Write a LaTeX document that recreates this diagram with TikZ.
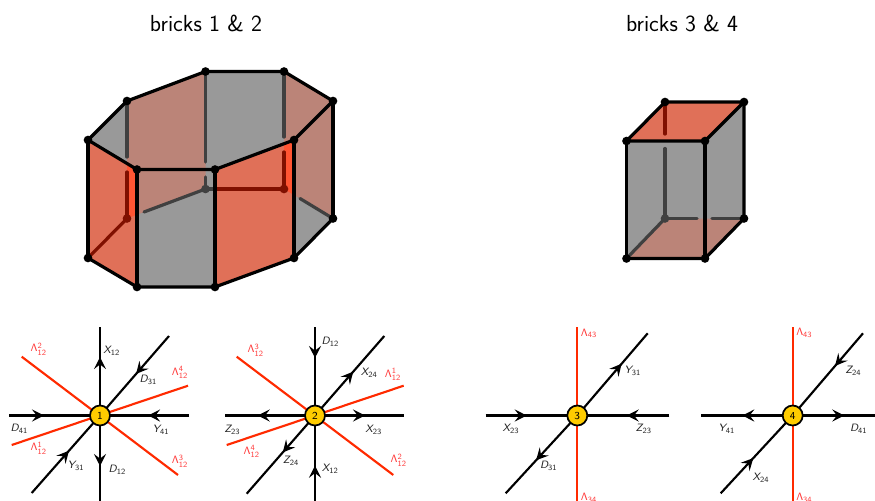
\documentclass[tikz,border=0pt]{standalone}
\usepackage{amsmath}
\usepackage{tikz}
\usetikzlibrary{arrows.meta,backgrounds,decorations.markings}
\definecolor{brickgray}{RGB}{153,153,153}
\definecolor{brickbrown}{RGB}{187,132,120}
\definecolor{brickred}{RGB}{224,112,88}
\definecolor{brickhot}{RGB}{255,85,51}
\definecolor{hidegray}{RGB}{64,64,64}
\definecolor{hidered}{RGB}{128,16,0}
\definecolor{gaugered}{RGB}{255,42,0}
\definecolor{lamred}{RGB}{255,60,60}
\definecolor{branegold}{RGB}{255,204,0}
\DeclareMathAlphabet{\mathsfit}{OT1}{cmss}{m}{sl}
\newcommand{\fld}[2]{$\mathsfit{#1}_{\mathsf{#2}}$}
\newcommand{\lam}[2]{$\mathsf{\Lambda}^{\mathsf{#1}}_{\mathsf{#2}}$}

\begin{document}
\begin{tikzpicture}[x=0.75pt, y=-0.75pt,
  every node/.style={font=\sffamily\fontsize{8}{10}\selectfont, inner sep=0pt},
  title/.style={font=\sffamily\fontsize{17.4}{20}\selectfont},
  edge/.style={line width=2.4pt, line join=round, line cap=round},
  hidgray/.style={line width=2.4pt, line cap=round, draw=hidegray},
  hidred/.style={line width=2.4pt, line cap=round, draw=hidered},
  vtx/.style={circle, fill=black, minimum size=6.5pt},
  vtxgray/.style={circle, fill=hidegray, minimum size=6.5pt},
  vtxred/.style={circle, fill=hidered, minimum size=6.5pt},
  brane/.style={circle, draw, line width=1.3pt, fill=branegold, minimum size=15pt},
  chir/.style={line width=1.6pt},
  gauge/.style={line width=1.6pt, draw=gaugered},
  flow/.style={chir, postaction={decorate}, decoration={markings,
    mark=at position #1 with {\arrow{Stealth[length=9pt, width=9pt, inset=3.5pt]}}}},
  lab/.style={text=black!85},
  lablam/.style={text=lamred}]
\useasboundingbox (0,0) rectangle (875,500);
% Titles
\node[title] (t12) at (206,23) {bricks 1 \& 2};
\node[title] (t34) at (682,23) {bricks 3 \& 4};
% Prism corners
\coordinate (a1) at (88,140);
\coordinate (b1) at (127,101);
\coordinate (c1) at (205.5,71.5);
\coordinate (d1) at (284,71.5);
\coordinate (e1) at (333,101);
\coordinate (f1) at (294,140);
\coordinate (g1) at (215,169.5);
\coordinate (h1) at (137,169.5);
\coordinate (a2) at (88,258);
\coordinate (b2) at (127,218.5);
\coordinate (c2) at (205.5,189);
\coordinate (d2) at (284,189);
\coordinate (e2) at (333,218.5);
\coordinate (f2) at (294,258);
\coordinate (g2) at (215,287);
\coordinate (h2) at (137,287);
% Prism faces
\fill[brickgray] (a1) -- (b1) -- (c1) -- (d1) -- (e1) -- (e2) -- (f2) -- (g2) -- (h2) -- (a2) -- cycle;
\fill[brickbrown] (b1) -- (c1) -- (c2) -- (b2) -- cycle;
\fill[brickbrown] (d1) -- (e1) -- (e2) -- (d2) -- cycle;
\fill[brickred] (a1) -- (h1) -- (h2) -- (a2) -- cycle;
\fill[brickred] (g1) -- (f1) -- (f2) -- (g2) -- cycle;
\fill[brickhot] (127,163.5) -- (h1) -- (137,214.7) -- (b2) -- cycle;
\fill[brickhot] (284,143.7) -- (f1) -- (294,195) -- (d2) -- cycle;
% Prism hidden edges
\draw[hidgray] (b1) -- (127,157);
\draw[hidred] (127,172) -- (b2);
\draw[hidgray] (c1) -- (205.5,162);
\draw[hidgray] (205.5,177) -- (c2);
\draw[hidgray] (d1) -- (284,137);
\draw[hidred] (284,152) -- (d2);
\draw[hidred] (a2) -- (b2);
\draw[hidgray] (144,212) -- (c2);
\draw[hidgray] (c2) -- (215,189);
\draw[hidred] (215,189) -- (d2);
\draw[hidgray] (300,198.5) -- (e2);
% Prism outline
\draw[edge] (a1) -- (b1) -- (c1) -- (d1) -- (e1) -- (f1) -- (g1) -- (h1) -- cycle;
\draw[edge] (a2) -- (h2) -- (g2) -- (f2) -- (e2);
\draw[edge] (a1) -- (a2);
\draw[edge] (h1) -- (h2);
\draw[edge] (g1) -- (g2);
\draw[edge] (f1) -- (f2);
\draw[edge] (e1) -- (e2);
\foreach \p in {a1,b1,c1,d1,e1,f1,g1,h1,a2,e2,f2,g2,h2}
  \node[vtx] at (\p) {};
\node[vtxred] at (b2) {};
\node[vtxred] at (d2) {};
\node[vtxgray] at (c2) {};
% Box corners
\coordinate (p1) at (626.5,141);
\coordinate (q1) at (705,141);
\coordinate (r1) at (744,102);
\coordinate (s1) at (665,102);
\coordinate (p2) at (626.5,258.5);
\coordinate (q2) at (705,258.5);
\coordinate (r2) at (744,218.5);
\coordinate (s2) at (665,218.5);
% Box faces
\fill[brickgray] (p1) -- (s1) -- (r1) -- (r2) -- (q2) -- (p2) -- cycle;
\fill[brickred] (p1) -- (q1) -- (r1) -- (s1) -- cycle;
\fill[brickbrown] (p2) -- (q2) -- (r2) -- (s2) -- cycle;
% Box hidden edges
\draw[hidred] (s1) -- (665,134);
\draw[hidgray] (665,148.5) -- (s2);
\draw[hidgray] (s2) -- (697,218.5);
\draw[hidgray] (712,218.5) -- (r2);
\draw[hidgray] (s2) -- (p2);
% Box outline
\draw[edge] (p1) -- (s1) -- (r1) -- (q1) -- cycle;
\draw[edge] (p2) -- (q2) -- (r2) -- (r1);
\draw[edge] (p1) -- (p2);
\draw[edge] (q1) -- (q2);
\foreach \p in {p1,q1,r1,s1,p2,q2,r2}
  \node[vtx] at (\p) {};
\node[vtxgray] at (s2) {};
% Branes
\node[brane] (n1) at (100,415.5) {1};
\node[brane] (n2) at (315,415.5) {2};
\node[brane] (n3) at (577.3,415.5) {3};
\node[brane] (n4) at (792.7,415.5) {4};
% Brane 1 fields
\begin{scope}[on background layer]
\draw[gauge] (21.7,356.7) coordinate (l1a) -- (178,475) coordinate (l1b);
\draw[gauge] (11.7,445) coordinate (l1c) -- (188,385.7) coordinate (l1d);
\coordinate (x1n) at (100,327);
\coordinate (x1s) at (100,503);
\coordinate (x1w) at (9,415.5);
\coordinate (x1e) at (189,415.5);
\coordinate (x1u) at (169,336);
\coordinate (x1v) at (31.7,493);
\draw[flow=0.66] (n1.center) -- (x1n);
\draw[flow=0.577] (n1.center) -- (x1s);
\draw[flow=0.385] (x1w) -- (n1.center);
\draw[flow=0.46] (x1e) -- (n1.center);
\draw[flow=0.478] (x1u) -- (n1.center);
\draw[flow=0.546] (x1v) -- (n1.center);
% Brane 2 fields
\draw[gauge] (236.7,356.7) coordinate (l2a) -- (393.3,475) coordinate (l2b);
\draw[gauge] (226.7,445) coordinate (l2c) -- (403.7,385.7) coordinate (l2d);
\coordinate (x2n) at (315,327);
\coordinate (x2s) at (315,503);
\coordinate (x2w) at (224.5,415.5);
\coordinate (x2e) at (404,415.5);
\coordinate (x2u) at (384.3,336);
\coordinate (x2v) at (246.7,493.7);
\draw[flow=0.35] (x2n) -- (n2.center);
\draw[flow=0.426] (x2s) -- (n2.center);
\draw[flow=0.633] (n2.center) -- (x2w);
\draw[flow=0.562] (n2.center) -- (x2e);
\draw[flow=0.553] (n2.center) -- (x2u);
\draw[flow=0.473] (n2.center) -- (x2v);
% Brane 3 fields
\coordinate (x3n) at (577.3,327);
\coordinate (x3s) at (577.3,503);
\coordinate (x3w) at (485.7,415.5);
\coordinate (x3e) at (669.3,415.5);
\coordinate (x3u) at (647.7,333.3);
\coordinate (x3v) at (505.7,493.3);
\draw[gauge] (x3n) -- (x3s);
\draw[flow=0.448] (x3w) -- (n3.center);
\draw[flow=0.463] (x3e) -- (n3.center);
\draw[flow=0.631] (n3.center) -- (x3u);
\draw[flow=0.577] (n3.center) -- (x3v);
% Brane 4 fields
\coordinate (x4n) at (792.7,327);
\coordinate (x4s) at (792.7,503);
\coordinate (x4w) at (700.7,415.5);
\coordinate (x4e) at (885,415.5);
\coordinate (x4u) at (863,333.3);
\coordinate (x4v) at (720.7,493.3);
\draw[gauge] (x4n) -- (x4s);
\draw[flow=0.548] (n4.center) -- (x4w);
\draw[flow=0.559] (n4.center) -- (x4e);
\draw[flow=0.398] (x4u) -- (n4.center);
\draw[flow=0.453] (x4v) -- (n4.center);
\end{scope}
% Labels brane 1
\node[lab] (f1a) at (111.7,350.7) {\fld{X}{12}};
\node[lablam] (f1b) at (38.7,349) {\lam{2}{12}};
\node[lab] (f1c) at (148.3,380) {\fld{D}{31}};
\node[lablam] (f1d) at (180,372.7) {\lam{4}{12}};
\node[lab] (f1e) at (19.3,429) {\fld{D}{41}};
\node[lab] (f1f) at (161,430) {\fld{Y}{41}};
\node[lablam] (f1g) at (38.7,448) {\lam{1}{12}};
\node[lab] (f1h) at (76,466) {\fld{Y}{31}};
\node[lab] (f1i) at (117.3,470) {\fld{D}{12}};
\node[lablam] (f1j) at (180,461) {\lam{3}{12}};
% Labels brane 2
\node[lab] (f2a) at (330.3,342) {\fld{D}{12}};
\node[lablam] (f2b) at (255.7,350) {\lam{3}{12}};
\node[lab] (f2c) at (369.3,372.7) {\fld{X}{24}};
\node[lablam] (f2d) at (393,374.3) {\lam{1}{12}};
\node[lab] (f2e) at (232.3,430) {\fld{Z}{23}};
\node[lab] (f2f) at (373.7,430) {\fld{X}{23}};
\node[lablam] (f2g) at (251.7,451.7) {\lam{4}{12}};
\node[lab] (f2h) at (291,461) {\fld{Z}{24}};
\node[lab] (f2i) at (330.3,469) {\fld{X}{12}};
\node[lablam] (f2j) at (398.7,460) {\lam{2}{12}};
% Labels brane 3
\node[lablam] (f3a) at (589,333.3) {$\mathsf{\Lambda}_{\mathsf{43}}$};
\node[lab] (f3b) at (632.7,370.7) {\fld{Y}{31}};
\node[lab] (f3c) at (511,429) {\fld{X}{23}};
\node[lab] (f3d) at (643.7,429) {\fld{Z}{23}};
\node[lab] (f3e) at (548.7,466) {\fld{D}{31}};
\node[lablam] (f3f) at (589,498) {$\mathsf{\Lambda}_{\mathsf{34}}$};
% Labels brane 4
\node[lablam] (f4a) at (804.3,332.7) {$\mathsf{\Lambda}_{\mathsf{43}}$};
\node[lab] (f4b) at (853.3,370.7) {\fld{Z}{24}};
\node[lab] (f4c) at (726.7,429) {\fld{Y}{41}};
\node[lab] (f4d) at (858.7,429) {\fld{D}{41}};
\node[lab] (f4e) at (761,477.7) {\fld{X}{24}};
\node[lablam] (f4f) at (804.3,498) {$\mathsf{\Lambda}_{\mathsf{34}}$};
\end{tikzpicture}
\end{document}
